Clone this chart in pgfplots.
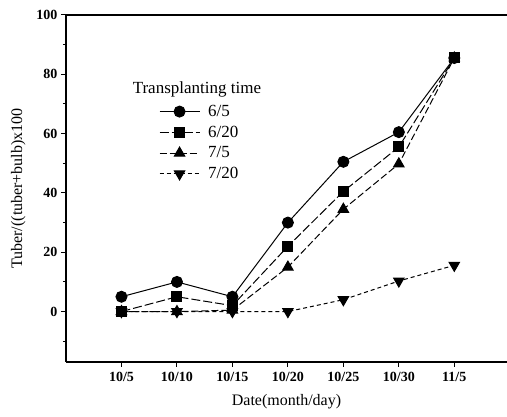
\documentclass[border=0pt]{standalone}
\usepackage{fontspec}
\setmainfont{Liberation Serif}
\usepackage{pgfplots}
\pgfplotsset{compat=1.18}

\begin{document}
\begin{tikzpicture}
\begin{axis}[
  at={(0pt,0pt)}, anchor=south west,
  scale only axis, width=441pt, height=347pt,
  xmin=-1, xmax=6.95, ymin=-17, ymax=100,
  axis x line=box, axis y line=left,
  axis line style={line width=1.4pt, -},
  xtick={0,1,2,3,4,5,6},
  xticklabels={10/5,10/10,10/15,10/20,10/25,10/30,11/5},
  xtick pos=bottom,
  ytick={0,20,40,60,80,100},
  minor ytick={-10,10,30,50,70,90},
  tick align=outside,
  major tick length=5pt, minor tick length=3pt,
  tick style={line width=1pt, black},
  /pgf/number format/assume math mode=true,
  ticklabel style={font=\fontsize{14}{16}\selectfont\bfseries},
  xticklabel style={yshift=-2pt},
  xlabel={Date(month/day)},
  ylabel={Tuber/((tuber+bulb)x100},
  label style={font=\fontsize{16}{18}\selectfont},
  xlabel style={yshift=-6pt},
  ylabel style={yshift=4pt},
  legend style={draw=none, fill=none, at={(axis cs:0.62,71)}, anchor=north west,
    font=\fontsize{17}{19}\selectfont, row sep=4pt},
  legend cell align=left,
  legend image code/.code={\draw[mark repeat=2,mark phase=2] plot coordinates {(0pt,0pt) (20pt,0pt) (40pt,0pt)};
    \path (46pt,0pt);},
  every axis plot/.append style={line width=1pt, black},
]
\addplot[solid, mark=*, mark size=5.5pt] coordinates {
  (0,5) (1,10) (2,5) (3,30) (4,50.5) (5,60.5) (6,85.5)};
\addlegendentry{6/5}
\addplot[dash pattern=on 9pt off 3pt, mark=square*, mark size=5pt, mark options={solid}] coordinates {
  (0,0) (1,5) (2,2) (3,22) (4,40.5) (5,55.5) (6,85.5)};
\addlegendentry{6/20}
\addplot[dash pattern=on 7pt off 3pt, mark=triangle*, mark size=6pt, mark options={solid}] coordinates {
  (0,0) (1,0) (2,0.5) (3,15) (4,34.5) (5,49.8) (6,85.5)};
\addlegendentry{7/5}
\addplot[dash pattern=on 4pt off 3pt, mark=triangle*, mark size=6pt, mark options={solid, rotate=180}] coordinates {
  (0,0) (1,0) (2,0) (3,0) (4,4) (5,10.3) (6,15.6)};
\addlegendentry{7/20}
\node[anchor=north west, font=\fontsize{17}{19}\selectfont, inner sep=0pt] at (axis cs:0.2,77.5) {Transplanting time};
\end{axis}
\pgfresetboundingbox
\path (-66pt,-55pt) rectangle (441pt,362pt);
\end{tikzpicture}
\end{document}
